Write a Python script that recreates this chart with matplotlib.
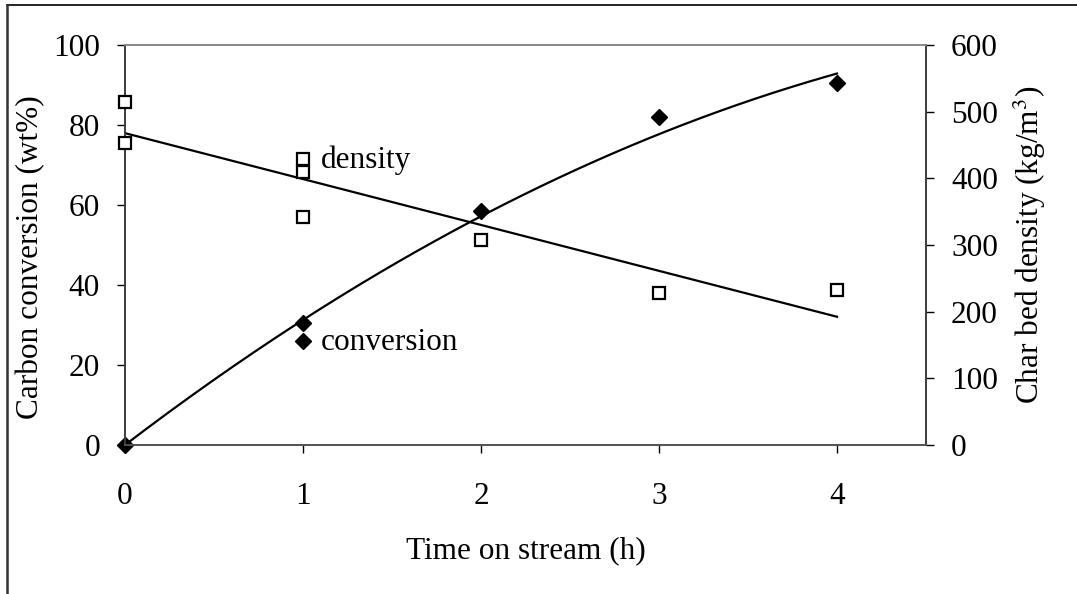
import numpy as np
import matplotlib
matplotlib.use('Agg')
import matplotlib.pyplot as plt
from matplotlib.lines import Line2D

plt.rcParams['font.family'] = ['Liberation Serif', 'DejaVu Serif']
plt.rcParams['mathtext.fontset'] = 'stix'

# carbon conversion (wt%) vs time on stream (h)
conv_t = [0, 1, 1, 2, 3, 4]
conv = [0, 30.5, 26, 58.5, 82, 90.5]

# char bed density (kg/m3) vs time on stream (h)
dens_t = [0, 0, 1, 1, 1, 2, 3, 4]
dens = [515, 453, 429, 409, 342, 307, 228, 233]

xticks = [0, 1, 2, 3, 4]
fs = 22.5

fig = plt.figure(figsize=(10.77, 5.94), dpi=100)
ax = fig.add_axes([125 / 1077, 1 - 445 / 594, 801 / 1077, 400 / 594])
ax2 = ax.twinx()

# trend lines: 2nd order polynomial through the origin for conversion,
# straight line for density
tt = np.linspace(0, 4, 200)
ct = np.array(conv_t, dtype=float)
coef, *_ = np.linalg.lstsq(np.column_stack([ct, ct ** 2]), np.array(conv), rcond=None)
ax.plot(tt, coef[0] * tt + coef[1] * tt ** 2, color='black', lw=1.6, zorder=2)
pd_ = np.polyfit(dens_t, dens, 1)
ax2.plot(tt, np.polyval(pd_, tt), color='black', lw=1.6, zorder=2)

ax.plot(conv_t, conv, 'D', color='black', ms=8.5, clip_on=False, zorder=3)
ax2.plot(dens_t, dens, 's', mfc='white', mec='black', mew=1.6, ms=8.5,
         clip_on=False, zorder=3)

ax.text(1.1, 25.5, 'conversion', fontsize=fs, va='center', ha='left')
ax2.text(1.1, 427, 'density', fontsize=fs, va='center', ha='left')

ax.set_xlim(0, 4.5)
ax.set_ylim(0, 100)
ax2.set_ylim(0, 600)
ax.set_xticks(xticks)
ax.set_yticks(range(0, 101, 20))
ax2.set_yticks(range(0, 601, 100))

for a in (ax, ax2):
    a.tick_params(direction='out', length=6, width=1, labelsize=fs, colors='black')
ax.tick_params(axis='x', pad=21)
ax.tick_params(axis='y', pad=12)
ax2.tick_params(axis='y', pad=12)

for a in (ax, ax2):
    a.spines['top'].set_color('#8a8a8a')
    a.spines['bottom'].set_color('#555555')
    a.spines['left'].set_color('#404040')
    a.spines['right'].set_color('#404040')
    for s in a.spines.values():
        s.set_linewidth(1.3)

ax.set_xlabel('Time on stream (h)', fontsize=fs, labelpad=18)
ax.set_ylabel('Carbon conversion (wt%)', fontsize=fs)
ax.yaxis.set_label_coords(-0.1, 0.47)
ax2.set_ylabel('Char bed density (kg/m$^3$)', fontsize=fs, labelpad=10)

# outer frame, top and left edges only
fig.add_artist(Line2D([7 / 1077, 1], [1 - 5 / 594, 1 - 5 / 594], color='black', lw=1.2))
fig.add_artist(Line2D([7 / 1077, 7 / 1077], [0, 1 - 5 / 594], color='#333333', lw=1.8))

fig.savefig('out.png', dpi=100)
